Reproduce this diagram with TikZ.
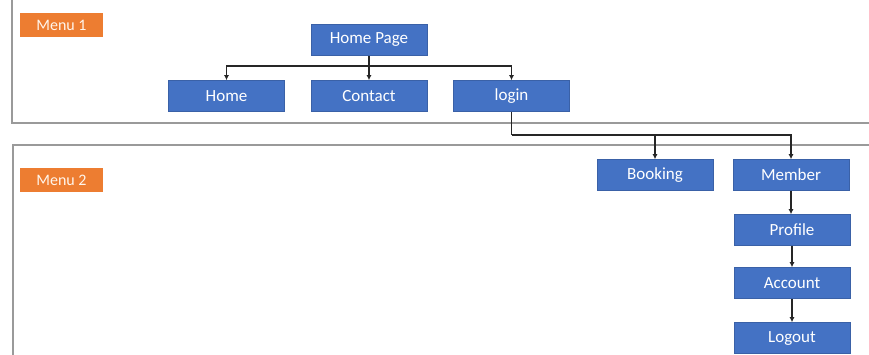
\documentclass[tikz,border=0pt]{standalone}
\usepackage{fontspec}
\setmainfont{Carlito}
\usetikzlibrary{arrows.meta}
\definecolor{boxblue}{HTML}{4472C4}
\definecolor{boxorange}{HTML}{ED7D31}
\definecolor{panelgray}{HTML}{9A9A9A}
\tikzset{
  pagebox/.style={draw=boxblue!85!black, line width=0.6pt, fill=boxblue, text=white, minimum width=116pt, minimum height=31pt, inner sep=0pt, font=\fontsize{17}{19}\selectfont},
  menutag/.style={fill=boxorange, text=white!92!orange, minimum width=83pt, minimum height=24pt, inner sep=0pt, font=\fontsize{16}{18}\selectfont},
  panel/.style={draw=panelgray, line width=1.4pt},
  link/.style={draw=black!85, line width=1.3pt, -{Latex[length=5pt,width=5pt]}},
  plainlink/.style={draw=black!85, line width=1.3pt}
}
\begin{document}
\begin{tikzpicture}[x=1pt,y=-1pt]
\useasboundingbox (0,0) rectangle (869,354);
\clip (0,0) rectangle (869,354);
% panels
\draw[panel] (880,-5) -- (12,-5) -- (12,123) -- (880,123);
\draw[panel] (880,145) -- (13,145) -- (13,370);
% menu tags
\node[menutag] (m1) at (61.5,25) {Menu 1};
\node[menutag] (m2) at (61.5,180) {Menu 2};
% boxes
\node[pagebox] (hp) at (369,40) {Home Page};
\node[pagebox] (home) at (226.5,96) {Home};
\node[pagebox] (contact) at (369,96) {Contact};
\node[pagebox] (login) at (511.5,96) {login};
\node[pagebox] (booking) at (655,175) {Booking};
\node[pagebox] (member) at (791,175) {Member};
\node[pagebox] (profile) at (792,230) {Profile};
\node[pagebox] (account) at (792,283) {Account};
\node[pagebox] (logout) at (792,338) {Logout};
% connectors
\coordinate (h) at (369,66);
\coordinate (j) at (511.5,135);
\draw[plainlink] (hp.south) -- (h);
\draw[link] (h) -| (home.north);
\draw[link] (h) -| (login.north);
\draw[link] (h) -- (contact.north);
\draw[plainlink] (login.south) -- (j);
\draw[link] (j) -| (member.north);
\draw[link] (j -| booking.north) -- (booking.north);
\draw[link] (member.south) -- (member.south |- profile.north);
\draw[link] (profile.south) -- (profile.south |- account.north);
\draw[link] (account.south) -- (account.south |- logout.north);
\end{tikzpicture}
\end{document}
